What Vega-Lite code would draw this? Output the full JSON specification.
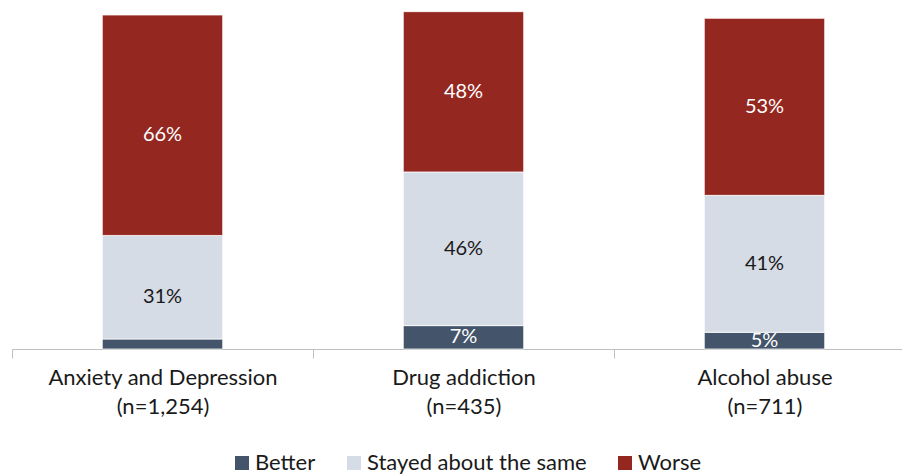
{
  "$schema": "https://vega.github.io/schema/vega-lite/v6.json",
  "autosize": "none",
  "width": 903,
  "height": 334,
  "padding": {"left": 12, "top": 15, "right": 0, "bottom": 125},
  "background": "white",
  "config": {
    "view": {"stroke": null},
    "font": "Lato"
  },
  "data": {
    "values": [
      {"cat": "Anxiety and Depression\n(n=1,254)", "r": "Better", "v": 3},
      {"cat": "Anxiety and Depression\n(n=1,254)", "r": "Stayed about the same", "v": 31},
      {"cat": "Anxiety and Depression\n(n=1,254)", "r": "Worse", "v": 66},
      {"cat": "Drug addiction\n(n=435)", "r": "Better", "v": 7},
      {"cat": "Drug addiction\n(n=435)", "r": "Stayed about the same", "v": 46},
      {"cat": "Drug addiction\n(n=435)", "r": "Worse", "v": 48},
      {"cat": "Alcohol abuse\n(n=711)", "r": "Better", "v": 5},
      {"cat": "Alcohol abuse\n(n=711)", "r": "Stayed about the same", "v": 41},
      {"cat": "Alcohol abuse\n(n=711)", "r": "Worse", "v": 53}
    ]
  },
  "transform": [{"calculate": "datum.v + '%'", "as": "label"}],
  "encoding": {
    "x": {
      "field": "cat",
      "type": "nominal",
      "sort": null,
      "scale": {"paddingInner": 0, "paddingOuter": 0},
      "axis": {
        "title": null,
        "labelAngle": 0,
        "labelExpr": "split(datum.label, '\\n')",
        "labelFont": "Lato",
        "labelFontSize": 22,
        "labelColor": "#1a1a1a",
        "labelLineHeight": 29,
        "labelPadding": 9,
        "labelBaseline": "top",
        "labelLimit": 0,
        "domainColor": "#bfbfbf",
        "domainWidth": 1,
        "tickColor": "#bfbfbf",
        "tickBand": "extent",
        "tickSize": 9,
        "grid": false
      }
    },
    "y": {
      "field": "v",
      "type": "quantitative",
      "stack": "zero",
      "scale": {"domain": [0, 100], "nice": false},
      "axis": null
    },
    "order": {"field": "r", "type": "nominal", "sort": "ascending"}
  },
  "layer": [
    {
      "mark": {"type": "bar", "width": {"band": 0.4}, "stroke": "white", "strokeWidth": 0.75, "clip": false},
      "encoding": {
        "color": {
          "field": "r",
          "type": "nominal",
          "sort": ["Better", "Stayed about the same", "Worse"],
          "scale": {
            "domain": ["Better", "Stayed about the same", "Worse"],
            "range": ["#44546a", "#d6dce5", "#952721"]
          },
          "legend": {
            "title": null,
            "orient": "none",
            "direction": "horizontal",
            "legendX": 219,
            "legendY": 437,
            "symbolType": "square",
            "symbolSize": 196,
            "symbolStrokeWidth": 0,
            "labelFont": "Lato",
            "labelFontSize": 22,
            "labelBaseline": "middle",
            "labelColor": "#1a1a1a",
            "labelOffset": 2,
            "labelLimit": 0,
            "columnPadding": 27
          }
        }
      }
    },
    {
      "transform": [{"filter": "datum.v >= 5"}],
      "mark": {"type": "text", "fontSize": 20, "baseline": "middle", "font": "Lato"},
      "encoding": {
        "y": {"field": "v", "type": "quantitative", "stack": "zero", "bandPosition": 0.5},
        "detail": {"field": "r", "type": "nominal"},
        "text": {"field": "label", "type": "nominal"},
        "color": {
          "condition": {"test": "datum.r === 'Stayed about the same'", "value": "#1a1a1a"},
          "value": "white"
        }
      }
    }
  ]
}
